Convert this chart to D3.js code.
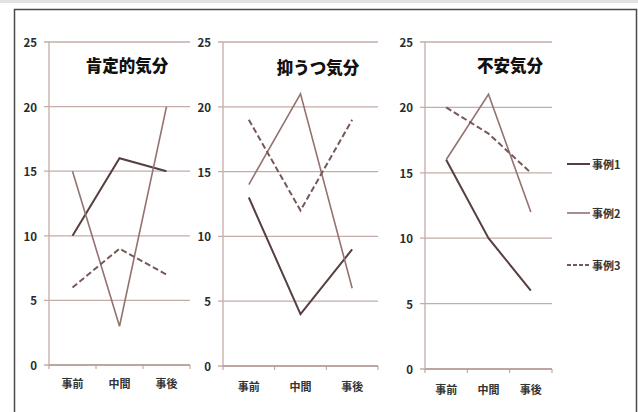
<!DOCTYPE html>
<html>
<head>
<meta charset="utf-8">
<script src="https://cdn.jsdelivr.net/npm/d3@7"></script>
<style>
  html, body { margin: 0; padding: 0; background: #fff; }
  svg { display: block; }
  text { font-family: "Noto Sans CJK JP", "Noto Sans", sans-serif; }
</style>
</head>
<body>
<svg id="chart" width="638" height="412"></svg>
<script>
// Timing categories on the x axis
const categories = ["事前", "中間", "事後"];
// y ticks
const yTicks = [0, 5, 10, 15, 20, 25];
// Series names
const seriesNames = ["事例1", "事例2", "事例3"];
// Panel titles
const panelTitles = ["肯定的気分", "抑うつ気分", "不安気分"];

// Scores per panel: one array per case (事例1, 事例2, 事例3)
const positiveMood = [[10, 16, 15], [15, 3, 20], [6, 9, 7]];
const depressedMood = [[13, 4, 9], [14, 21, 6], [19, 12, 19]];
const anxiousMood = [[16, 10, 6], [16, 21, 12], [20, 18, 15]];

const panelData = [positiveMood, depressedMood, anxiousMood];

// Layout of each small chart
const panels = [
  { left: 49, right: 190, top: 42, bottom: 365, labelY: 383, titleX: 127, titleY: 65 },
  { left: 223, right: 378, top: 42, bottom: 366, labelY: 386, titleX: 318, titleY: 67 },
  { left: 425, right: 552, top: 42, bottom: 369, labelY: 389, titleX: 510, titleY: 65 }
];

const seriesStyle = [
  { color: "#563f3f", width: 2, dash: null },
  { color: "#937270", width: 1.6, dash: null },
  { color: "#765856", width: 2, dash: "6,3" }
];
const gridColor = "#c4aca8";
const textColor = "#2a2a2a";

const svg = d3.select("#chart");

// Outer frame
svg.append("rect").attr("x", 0).attr("y", 0).attr("width", 638).attr("height", 3).attr("fill", "#e2e2e2");
svg.append("path")
  .attr("d", "M14.5,412 L14.5,9.5 L636.5,9.5 L636.5,412")
  .attr("fill", "none").attr("stroke", "#4a4a4a").attr("stroke-width", 1.5);

panels.forEach((p, i) => {
  const g = svg.append("g");
  const x = d3.scaleBand().domain(categories).range([p.left, p.right]);
  const y = d3.scaleLinear().domain([0, 25]).range([p.bottom, p.top]);

  // horizontal gridlines with short left ticks
  g.selectAll("line.grid").data(yTicks).join("line")
    .attr("x1", p.left - 5).attr("x2", p.right)
    .attr("y1", d => y(d)).attr("y2", d => y(d))
    .attr("stroke", gridColor).attr("stroke-width", 1.3);

  // y axis line
  g.append("line")
    .attr("x1", p.left).attr("x2", p.left)
    .attr("y1", y(25)).attr("y2", y(0) + 4)
    .attr("stroke", gridColor).attr("stroke-width", 1.3);

  // x axis line and tick marks at band boundaries
  g.append("line")
    .attr("x1", p.left).attr("x2", p.right)
    .attr("y1", y(0)).attr("y2", y(0))
    .attr("stroke", "#b39c98").attr("stroke-width", 1.3);
  const boundaries = categories.slice(1).map(c => x(c)).concat([p.right]);
  g.selectAll("line.xt").data(boundaries).join("line")
    .attr("x1", d => d).attr("x2", d => d)
    .attr("y1", y(0)).attr("y2", y(0) + 4)
    .attr("stroke", "#b39c98").attr("stroke-width", 1);

  // y tick labels
  g.selectAll("text.yl").data(yTicks).join("text")
    .attr("x", p.left - 12).attr("y", d => y(d))
    .attr("text-anchor", "end").attr("dominant-baseline", "central")
    .attr("font-size", 11.5).attr("font-weight", "bold").attr("fill", textColor)
    .text(d => d);

  // category labels
  g.selectAll("text.xl").data(categories).join("text")
    .attr("x", d => x(d) + x.bandwidth() / 2).attr("y", p.labelY)
    .attr("text-anchor", "middle").attr("dominant-baseline", "central")
    .attr("font-size", 11).attr("font-weight", "bold").attr("fill", "#333")
    .text(d => d);

  // title
  g.append("text")
    .attr("x", p.titleX).attr("y", p.titleY)
    .attr("text-anchor", "middle").attr("dominant-baseline", "central")
    .attr("font-size", 16.5).attr("font-weight", "900").attr("fill", "#111")
    .text(panelTitles[i]);

  // series lines
  const line = d3.line()
    .x((d, k) => x(categories[k]) + x.bandwidth() / 2)
    .y(d => y(d));
  panelData[i].forEach((vals, s) => {
    const st = seriesStyle[s];
    g.append("path")
      .attr("d", line(vals))
      .attr("fill", "none")
      .attr("stroke", st.color)
      .attr("stroke-width", st.width)
      .attr("stroke-dasharray", st.dash);
  });
});

// legend
const legendY = [164, 213, 265];
const legend = svg.append("g");
seriesNames.forEach((name, s) => {
  const st = seriesStyle[s];
  legend.append("line")
    .attr("x1", 567).attr("x2", 590)
    .attr("y1", legendY[s]).attr("y2", legendY[s])
    .attr("stroke", st.color).attr("stroke-width", st.width)
    .attr("stroke-dasharray", st.dash ? "4,2" : null);
  legend.append("text")
    .attr("x", 592).attr("y", legendY[s])
    .attr("dominant-baseline", "central")
    .attr("font-size", 11).attr("font-weight", "bold").attr("fill", "#333")
    .text(name);
});
</script>
</body>
</html>
